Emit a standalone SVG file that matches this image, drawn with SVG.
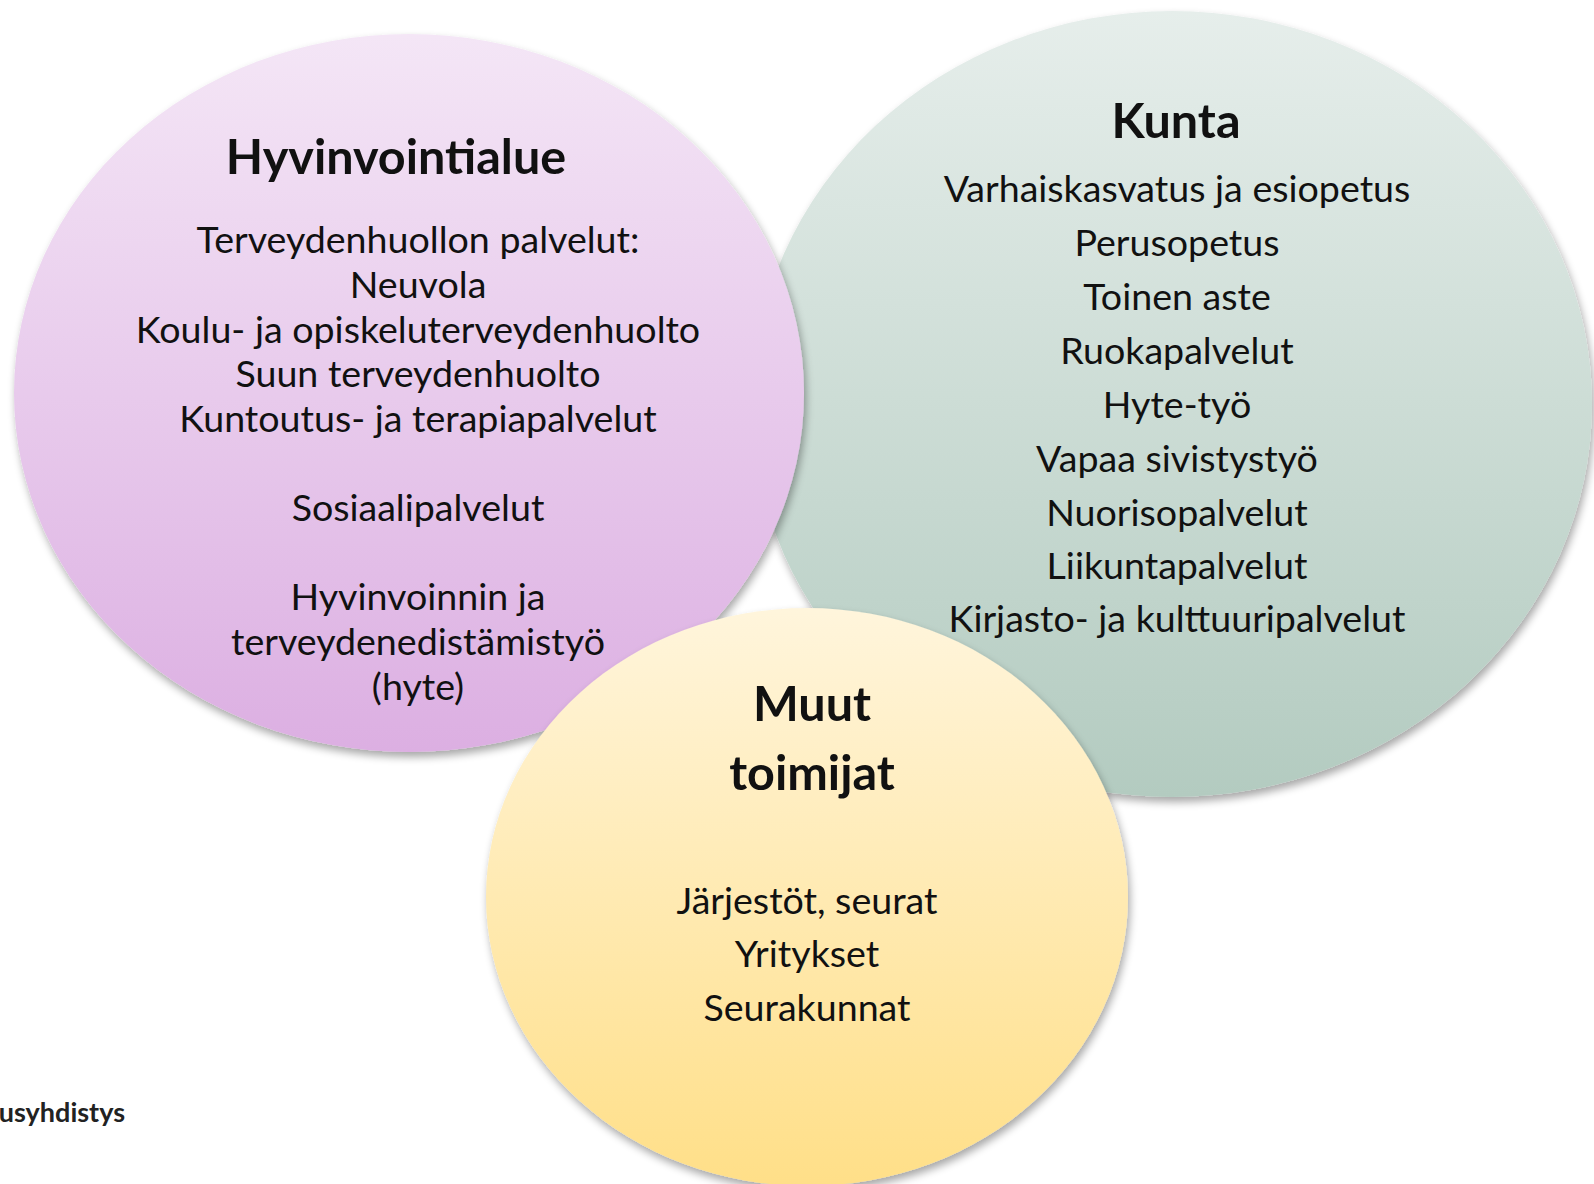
<svg xmlns="http://www.w3.org/2000/svg" width="1594" height="1184" viewBox="0 0 1594 1184">
<style>
.t{font-family:Lato,"Open Sans","Liberation Sans",sans-serif;fill:#111;text-anchor:middle}
.h{font-size:48.5px;font-weight:700}
.b{font-size:37.6px;font-weight:400}
</style>
<defs>
<linearGradient id="gp" x1="0" y1="0" x2="0" y2="1"><stop offset="0" stop-color="#f4e6f6"/><stop offset="1" stop-color="#dcafe2"/></linearGradient>
<linearGradient id="gg" x1="0" y1="0" x2="0" y2="1"><stop offset="0" stop-color="#e6eeeb"/><stop offset="1" stop-color="#b3cbc0"/></linearGradient>
<linearGradient id="gy" x1="0" y1="0" x2="0" y2="1"><stop offset="0" stop-color="#fff5dc"/><stop offset="1" stop-color="#ffdf88"/></linearGradient>
<filter id="sh" x="-10%" y="-10%" width="120%" height="125%"><feGaussianBlur in="SourceAlpha" stdDeviation="4"/><feOffset dx="2" dy="5"/><feComponentTransfer><feFuncA type="linear" slope="0.35"/></feComponentTransfer><feMerge><feMergeNode/><feMergeNode in="SourceGraphic"/></feMerge></filter>
</defs>
<rect width="1594" height="1184" fill="#fff"/>
<g id="kunta">
<ellipse cx="1172" cy="404" rx="420" ry="393" fill="url(#gg)" filter="url(#sh)"/>
<text class="t h" x="1176" y="138">Kunta</text>
<text class="t b" x="1177" y="202">Varhaiskasvatus ja esiopetus</text>
<text class="t b" x="1177" y="256">Perusopetus</text>
<text class="t b" x="1177" y="310">Toinen aste</text>
<text class="t b" x="1177" y="364">Ruokapalvelut</text>
<text class="t b" x="1177" y="418">Hyte-työ</text>
<text class="t b" x="1177" y="472">Vapaa sivistystyö</text>
<text class="t b" x="1177" y="526">Nuorisopalvelut</text>
<text class="t b" x="1177" y="579">Liikuntapalvelut</text>
<text class="t b" x="1177" y="632">Kirjasto- ja kulttuuripalvelut</text>
</g>
<g id="hyvinvointialue">
<ellipse cx="409" cy="393" rx="395" ry="359" fill="url(#gp)" filter="url(#sh)"/>
<text class="t h" x="396" y="174">Hyvinvointialue</text>
<text class="t b" x="418" y="253">Terveydenhuollon palvelut:</text>
<text class="t b" x="418" y="298">Neuvola</text>
<text class="t b" x="418" y="343">Koulu- ja opiskeluterveydenhuolto</text>
<text class="t b" x="418" y="387">Suun terveydenhuolto</text>
<text class="t b" x="418" y="432">Kuntoutus- ja terapiapalvelut</text>
<text class="t b" x="418" y="521">Sosiaalipalvelut</text>
<text class="t b" x="418" y="610">Hyvinvoinnin ja</text>
<text class="t b" x="418" y="655">terveydenedistämistyö</text>
<text class="t b" x="418" y="700">(hyte)</text>
</g>
<g id="muut">
<ellipse cx="807" cy="897" rx="321" ry="289" fill="url(#gy)" filter="url(#sh)"/>
<text class="t h" x="812" y="721">Muut</text>
<text class="t h" x="812" y="790">toimijat</text>
<text class="t b" x="807" y="914">Järjestöt, seurat</text>
<text class="t b" x="807" y="967">Yritykset</text>
<text class="t b" x="807" y="1021">Seurakunnat</text>
</g>
<g id="connectors"/>
<text x="125" y="1122" style="font-family:Lato,'Liberation Sans',sans-serif;font-size:27px;font-weight:700;fill:#222;text-anchor:end">usyhdistys</text>
</svg>
